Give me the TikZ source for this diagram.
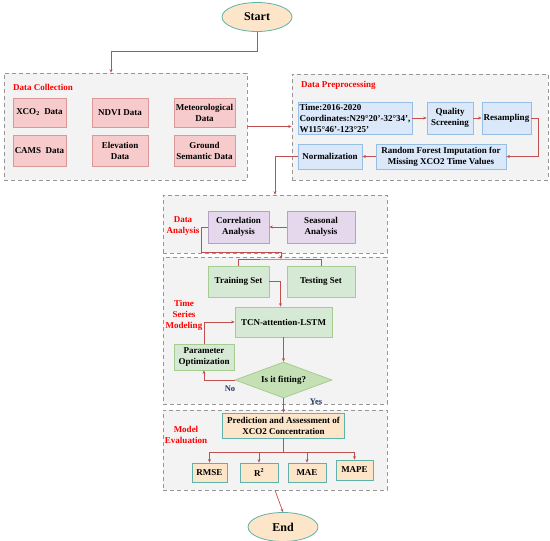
\documentclass[tikz,border=0pt]{standalone}
\usepackage{fontspec}
\setmainfont{Liberation Serif}
\usetikzlibrary{shapes.geometric,arrows.meta,positioning}
\definecolor{linered}{RGB}{192,80,77}
\definecolor{grpgray}{RGB}{243,243,243}
\definecolor{grpline}{RGB}{150,150,150}
\definecolor{pinkfill}{RGB}{247,203,203}
\definecolor{pinkline}{RGB}{218,152,152}
\definecolor{bluefill}{RGB}{218,232,250}
\definecolor{blueline}{RGB}{150,190,228}
\definecolor{purplefill}{RGB}{229,216,236}
\definecolor{purpleline}{RGB}{182,160,200}
\definecolor{greenfill}{RGB}{214,233,212}
\definecolor{greenline}{RGB}{165,205,145}
\definecolor{fitfill}{RGB}{197,224,180}
\definecolor{tanfill}{RGB}{252,229,200}
\definecolor{tealline}{RGB}{95,178,168}
\definecolor{navytext}{RGB}{31,56,100}
\begin{document}
\begin{tikzpicture}
  [x=1pt,y=-1pt,
   every node/.style={font=\bfseries\fontsize{9}{11}\selectfont,align=center,inner sep=0pt},
   grp/.style={draw=grpline,fill=grpgray,line width=0.6pt,dash pattern=on 4pt off 3pt},
   ttl/.style={text=red},
   pinkbox/.style={draw=pinkline,fill=pinkfill,line width=0.8pt},
   bluebox/.style={draw=blueline,fill=bluefill,line width=0.8pt},
   purplebox/.style={draw=purpleline,fill=purplefill,line width=0.8pt},
   greenbox/.style={draw=greenline,fill=greenfill,line width=0.8pt},
   tanbox/.style={draw=tealline,fill=tanfill,line width=0.8pt},
   term/.style={ellipse,draw=tealline,fill=tanfill,line width=0.8pt,minimum width=70pt,minimum height=29pt,font=\bfseries\fontsize{12}{14}\selectfont},
   decision/.style={diamond,aspect=2.7,draw=greenline,fill=fitfill,line width=0.8pt,minimum width=97pt,minimum height=36pt},
   arr/.style={draw=linered,line width=0.7pt,-{Stealth[length=3.5pt,width=3pt]}},
   link/.style={draw=linered,line width=0.7pt},
   ans/.style={text=navytext,font=\bfseries\fontsize{8.5}{10}\selectfont}]
  \useasboundingbox (0,0) rectangle (550,541);
  \node[grp,minimum width=243pt,minimum height=107pt] (dc) at (125.5,126.5) {};
  \node[grp,minimum width=256pt,minimum height=106pt] (dp) at (420,127) {};
  \node[grp,minimum width=224pt,minimum height=58pt] (da) at (275,224) {};
  \node[grp,minimum width=224pt,minimum height=147pt] (ts) at (275,330.5) {};
  \node[grp,minimum width=224pt,minimum height=80pt] (me) at (275,450) {};
  \node[term] (start) at (257,17) {Start};
  \node[term] (end) at (283,527) {End};
  \node[ttl,anchor=west] (dctitle) at (13,87) {Data Collection};
  \node[pinkbox,minimum width=53pt,minimum height=29pt] (xco2) at (39.5,112.5) {XCO\textsubscript{2}\ \ Data};
  \node[pinkbox,minimum width=56pt,minimum height=29pt] (ndvi) at (120,112.5) {NDVI Data};
  \node[pinkbox,minimum width=61pt,minimum height=29pt] (met) at (204.5,112.5) {Meteorological\\Data};
  \node[pinkbox,minimum width=53pt,minimum height=31pt] (cams) at (39.5,150.5) {CAMS\ \ Data};
  \node[pinkbox,minimum width=56pt,minimum height=31pt] (elev) at (120,150.5) {Elevation\\Data};
  \node[pinkbox,minimum width=61pt,minimum height=31pt] (ground) at (204.5,150.5) {Ground\\Semantic Data};
  \node[ttl,anchor=west] (dptitle) at (301,85) {Data Preprocessing};
  \node[bluebox,minimum width=114pt,minimum height=32pt,align=left] (time) at (355,118) {Time:2016-2020\\Coordinates:N29°20'-32°34',\\W115°46'-123°25'};
  \node[bluebox,minimum width=46pt,minimum height=32pt] (quality) at (450,118) {Quality\\Screening};
  \node[bluebox,minimum width=49pt,minimum height=32pt] (resamp) at (506.5,118) {Resampling};
  \node[bluebox,minimum width=130pt,minimum height=25pt] (rf) at (441,156.5) {Random Forest Imputation for\\Missing XCO2 Time Values};
  \node[bluebox,minimum width=64pt,minimum height=25pt] (norm) at (330,156.5) {Normalization};
  \node[ttl] (datitle) at (183,226) {Data\\Analysis};
  \node[purplebox,minimum width=61pt,minimum height=32pt] (corr) at (238.5,227) {Correlation\\Analysis};
  \node[purplebox,minimum width=68pt,minimum height=32pt] (seas) at (321,227) {Seasonal\\Analysis};
  \node[ttl] (tstitle) at (184,315) {Time\\Series\\Modeling};
  \node[greenbox,minimum width=61pt,minimum height=31pt] (train) at (238.5,281.5) {Training Set};
  \node[greenbox,minimum width=68pt,minimum height=31pt] (test) at (321,281.5) {Testing Set};
  \node[greenbox,minimum width=97pt,minimum height=30pt] (tcn) at (283.5,322) {TCN-attention-LSTM};
  \node[greenbox,minimum width=60pt,minimum height=26pt] (param) at (204,357) {Parameter\\Optimization};
  \node[decision] (fit) at (283.5,380) {Is it fitting?};
  \node[ans] (no) at (230,389) {No};
  \node[ans] (yes) at (316,402) {Yes};
  \node[ttl] (metitle) at (186,435) {Model\\Evaluation};
  \node[tanbox,minimum width=122pt,minimum height=25pt] (pred) at (283.5,425.5) {Prediction and Assessment of\\XCO2 Concentration};
  \node[tanbox,minimum width=35pt,minimum height=19pt] (rmse) at (209.5,472.5) {RMSE};
  \node[tanbox,minimum width=38pt,minimum height=19pt] (r2) at (259,472.5) {R\textsuperscript{2}};
  \node[tanbox,minimum width=38pt,minimum height=19pt] (mae) at (307,472.5) {MAE};
  \node[tanbox,minimum width=37pt,minimum height=20pt] (mape) at (354.5,470) {MAPE};
  \coordinate (split) at (281,259);
  \draw[arr] (start.south) -- ++(0,19) -| ([xshift=-14.5pt]dc.north);
  \draw[arr] (dc.east) -- (dc.east -| dp.west);
  \draw[arr] (time) -- (quality);
  \draw[arr] (quality) -- (resamp);
  \draw[arr] (resamp.east) -- ++(7,0) |- (rf.east);
  \draw[arr] (rf) -- (norm);
  \draw[arr] (norm.west) -| (da.north);
  \draw[arr] (seas) -- (corr);
  \draw[arr] (corr.west) -- ++(-6,0) |- ([yshift=1pt]da.south -| split) -- (split);
  \draw[link] (train.north) |- (split) -| (test.north);
  \draw[arr] (train.east) -| ([xshift=-3pt]tcn.north);
  \draw[arr] (param.north) |- (tcn.west);
  \draw[arr] (tcn) -- (fit);
  \draw[arr] (fit.west) -| (param.south);
  \draw[arr] (fit.south) -- (pred.north);
  \draw[arr] (pred.south) -- ++(0,14) -| (rmse.north);
  \draw[arr] (pred.south) -- ++(0,14) -| (r2.north);
  \draw[arr] (pred.south) -- ++(0,14) -| (mae.north);
  \draw[arr] (pred.south) -- ++(0,14) -| (mape.north);
  \draw[arr] (me.south) -- (end.north);
\end{tikzpicture}
\end{document}
